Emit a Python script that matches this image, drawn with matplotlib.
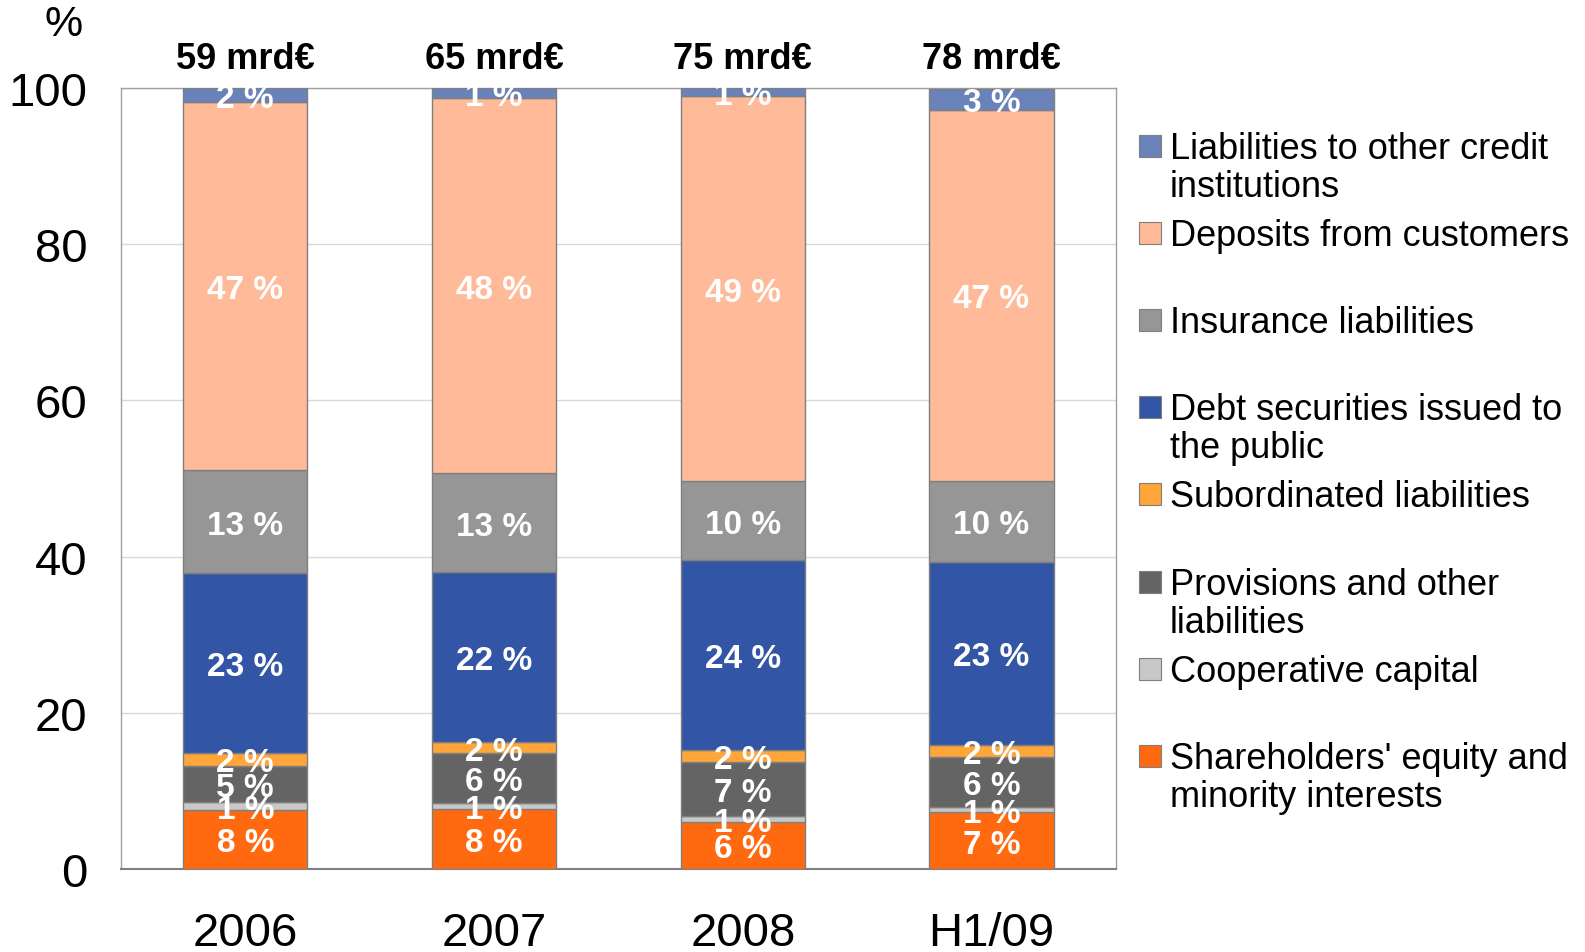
import matplotlib
matplotlib.use("Agg")
import matplotlib.pyplot as plt
from matplotlib.patches import Rectangle
import numpy as np

plt.rcParams['font.family'] = ['Liberation Sans', 'DejaVu Sans']

categories = ["2006", "2007", "2008", "H1/09"]
totals = ["59 mrd€", "65 mrd€", "75 mrd€", "78 mrd€"]

# stacked from bottom to top
series_names = [
    "Shareholders' equity and\nminority interests",
    "Cooperative capital",
    "Provisions and other\nliabilities",
    "Subordinated liabilities",
    "Debt securities issued to\nthe public",
    "Insurance liabilities",
    "Deposits from customers",
    "Liabilities to other credit\ninstitutions",
]
equity       = [7.6, 7.7, 6.06, 7.26]
coop_capital = [0.98, 0.8, 0.7, 0.68]
provisions   = [4.6, 6.3, 6.9, 6.45]
subordinated = [1.7, 1.5, 1.6, 1.5]
debt_secs    = [23.0, 21.7, 24.3, 23.45]
insurance    = [13.2, 12.7, 10.1, 10.4]
deposits     = [47.1, 48.0, 49.3, 47.45]
liab_credit  = [1.8, 1.3, 1.04, 2.7]

series = [equity, coop_capital, provisions, subordinated, debt_secs,
          insurance, deposits, liab_credit]
colors = ["#FF6A10", "#C8C8C8", "#646464", "#FFA53A", "#3355A5",
          "#969696", "#FFBB99", "#6A82BA"]

fig = plt.figure(figsize=(15.85, 9.53), dpi=100)
ax = fig.add_axes([0.0763, 0.0871, 0.704 - 0.0763, 0.9066 - 0.0871])

x = np.arange(len(categories))
bottom = np.zeros(len(categories))
for vals, col in zip(series, colors):
    vals = np.array(vals)
    ax.bar(x, vals, 0.5, bottom=bottom, color=col, edgecolor="#7F7F7F",
           linewidth=1.0, zorder=3)
    for xi, b, v in zip(x, bottom, vals):
        ax.annotate(f"{round(v):d} %", (xi, b + v / 2), xytext=(0, -2.5),
                    textcoords="offset points", ha="center", va="center",
                    color="white", fontsize=24, fontweight="bold", zorder=5)
    bottom += vals

for xi, t in zip(x, totals):
    ax.text(xi, 103.8, t, ha="center", va="center", fontsize=26,
            fontweight="bold", clip_on=False)

ax.set_xlim(-0.5, 3.5)
ax.set_ylim(0, 100)
ax.set_yticks([0, 20, 40, 60, 80, 100])
ax.set_xticks(x)
ax.set_xticklabels(categories)
ax.tick_params(axis="both", length=0, labelsize=34)
ax.tick_params(axis="y", pad=24)
ax.tick_params(axis="x", pad=30)
ax.yaxis.grid(True, color="#D9D9D9", linewidth=1.0, zorder=0)
ax.set_axisbelow(True)
for side in ["top", "right", "left"]:
    ax.spines[side].set_color("#A0A0A0")
    ax.spines[side].set_linewidth(1.0)
ax.spines["bottom"].set_color("#808080")
ax.spines["bottom"].set_linewidth(1.5)

fig.text(64 / 1585, 1 - 25 / 953, "%", ha="center", va="center", fontsize=31)

# legend (top to bottom: reverse stacking order)
W, H = 1585, 953
y0 = 146.6
step = 87.2
for i, (name, col) in enumerate(zip(series_names[::-1], colors[::-1])):
    yc = y0 + i * step
    size = 22
    fig.patches.append(Rectangle(((1139) / W, 1 - (yc + size / 2) / H),
                                 size / W, size / H, transform=fig.transFigure,
                                 facecolor=col, edgecolor="#7F7F7F",
                                 linewidth=0.8))
    fig.text(1170 / W, 1 - (yc - 15) / H, name, ha="left", va="top",
             fontsize=26, linespacing=1.12)

fig.savefig("out.png", dpi=100)
